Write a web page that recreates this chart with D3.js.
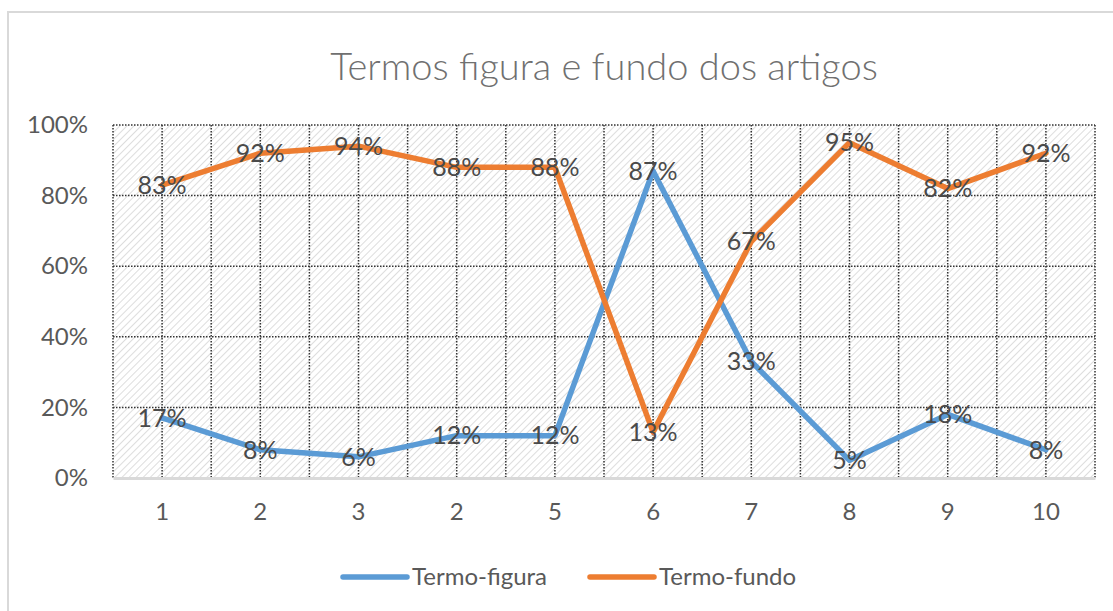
<!DOCTYPE html>
<html>
<head>
<meta charset="utf-8">
<script src="https://cdn.jsdelivr.net/npm/d3@7"></script>
<style>
  body { margin: 0; background: #fff; }
  text { font-family: Lato, "Open Sans", sans-serif; }
</style>
</head>
<body>
<div id="chart"></div>
<script>
// chart data
var categories = ["1", "2", "3", "2", "5", "6", "7", "8", "9", "10"];
var termoFigura = [0.17, 0.08, 0.06, 0.12, 0.12, 0.87, 0.33, 0.05, 0.18, 0.08];
var termoFundo = [0.83, 0.92, 0.94, 0.88, 0.88, 0.13, 0.67, 0.95, 0.82, 0.92];
var yTicks = [0, 0.2, 0.4, 0.6, 0.8, 1];
var seriesNames = ["Termo-figura", "Termo-fundo"];
var seriesColors = ["#5b9bd5", "#ed7d31"];

var svgWidth = 1113;
var svgHeight = 611;

var margin = { top: 125, right: 18, bottom: 133, left: 113 };
var width = svgWidth - margin.left - margin.right;
var height = svgHeight - margin.top - margin.bottom;

var svg = d3.select("#chart")
  .append("svg")
  .attr("width", svgWidth)
  .attr("height", svgHeight);

// hatch pattern for plot area
var defs = svg.append("defs");
defs.append("pattern")
  .attr("id", "hatch")
  .attr("patternUnits", "userSpaceOnUse")
  .attr("width", 5)
  .attr("height", 5)
  .attr("patternTransform", "rotate(45)")
  .append("line")
  .attr("x1", 0).attr("y1", 0)
  .attr("x2", 0).attr("y2", 5)
  .attr("stroke", "#c6c6c6")
  .attr("stroke-width", 1.2);

// outer chart frame (runs off the right and bottom)
svg.append("rect")
  .attr("x", 8).attr("y", 12)
  .attr("width", 1200).attr("height", 700)
  .attr("fill", "none")
  .attr("stroke", "#d9d9d9")
  .attr("stroke-width", 2);

// title
svg.append("text")
  .attr("x", 604)
  .attr("y", 80)
  .attr("text-anchor", "middle")
  .attr("font-size", "38px")
  .attr("font-weight", 300)
  .attr("fill", "#707070")
  .text("Termos figura e fundo dos artigos");

var chartGroup = svg.append("g")
  .attr("transform", `translate(${margin.left}, ${margin.top})`);

var xScale = d3.scaleBand()
  .domain(d3.range(categories.length))
  .range([0, width]);

var yScale = d3.scaleLinear()
  .domain([0, 1])
  .range([height, 0]);

// plot background
chartGroup.append("rect")
  .attr("width", width)
  .attr("height", height)
  .attr("fill", "url(#hatch)");

// vertical grid: category edges and centers
var vLines = [];
d3.range(categories.length).forEach(function(i) {
  vLines.push(xScale(i));
  vLines.push(xScale(i) + xScale.bandwidth() / 2);
});
vLines.push(width);

chartGroup.selectAll(".vgrid")
  .data(vLines)
  .enter()
  .append("line")
  .classed("vgrid", true)
  .attr("x1", d => d).attr("x2", d => d)
  .attr("y1", 0).attr("y2", height)
  .attr("stroke", "#333")
  .attr("stroke-width", 1.5)
  .attr("stroke-dasharray", "1.5,1.5");

chartGroup.selectAll(".hgrid")
  .data(yTicks.slice(1))
  .enter()
  .append("line")
  .classed("hgrid", true)
  .attr("x1", 0).attr("x2", width)
  .attr("y1", d => yScale(d)).attr("y2", d => yScale(d))
  .attr("stroke", "#333")
  .attr("stroke-width", 1.5)
  .attr("stroke-dasharray", "1.5,1.5");

// y axis labels
var leftAxis = d3.axisLeft(yScale)
  .tickValues(yTicks)
  .tickFormat(d3.format(".0%"))
  .tickSize(0)
  .tickPadding(25);

var yAxis = chartGroup.append("g").call(leftAxis);
yAxis.select(".domain").remove();
yAxis.selectAll("text")
  .attr("font-size", "24px")
  .attr("fill", "#595959")
  .style("font-family", "Lato, 'Open Sans', sans-serif");

// x axis
var bottomAxis = d3.axisBottom(xScale)
  .tickFormat(i => categories[i])
  .tickSize(0)
  .tickPadding(25);

var xAxis = chartGroup.append("g")
  .attr("transform", `translate(0, ${height})`)
  .call(bottomAxis);
xAxis.select(".domain")
  .attr("stroke", "#d9d9d9")
  .attr("stroke-width", 3);
xAxis.selectAll("text")
  .attr("font-size", "24px")
  .attr("fill", "#595959")
  .style("font-family", "Lato, 'Open Sans', sans-serif");

// lines
var line = d3.line()
  .x((d, i) => xScale(i) + xScale.bandwidth() / 2)
  .y(d => yScale(d));

var allSeries = [termoFigura, termoFundo];

chartGroup.selectAll(".series")
  .data(allSeries)
  .enter()
  .append("path")
  .classed("series", true)
  .attr("d", d => line(d))
  .attr("fill", "none")
  .attr("stroke", (d, i) => seriesColors[i])
  .attr("stroke-width", 5.5)
  .attr("stroke-linejoin", "round")
  .attr("stroke-linecap", "round");

// data labels
allSeries.forEach(function(values) {
  chartGroup.selectAll(null)
    .data(values)
    .enter()
    .append("text")
    .attr("x", (d, i) => xScale(i) + xScale.bandwidth() / 2)
    .attr("y", d => yScale(d))
    .attr("dy", "0.35em")
    .attr("text-anchor", "middle")
    .attr("font-size", "25px")
    .attr("fill", "#4a4a4a")
    .text(d => d3.format(".0%")(d));
});

// legend
var legend = svg.append("g")
  .attr("transform", "translate(343, 577)");

var legendOffsets = [0, 247];
seriesNames.forEach(function(name, i) {
  var g = legend.append("g")
    .attr("transform", `translate(${legendOffsets[i]}, 0)`);
  g.append("line")
    .attr("x1", 0).attr("x2", 64)
    .attr("y1", 0).attr("y2", 0)
    .attr("stroke", seriesColors[i])
    .attr("stroke-width", 5.5)
    .attr("stroke-linecap", "round");
  g.append("text")
    .attr("x", 69)
    .attr("y", 0)
    .attr("dy", "0.35em")
    .attr("font-size", "24px")
    .attr("fill", "#595959")
    .text(name);
});
</script>
</body>
</html>
